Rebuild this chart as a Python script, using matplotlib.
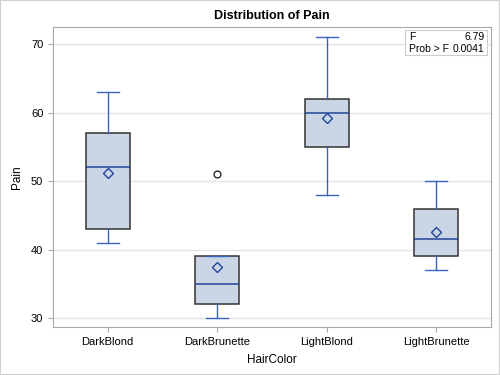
import matplotlib.pyplot as plt

plt.rcParams['font.family'] = ['Liberation Sans', 'DejaVu Sans']

# ------------------------------
# Data
# ------------------------------
hair = ["DarkBlond", "DarkBrunette", "LightBlond", "LightBrunette"]
whislo = [41, 30, 48, 37]
q1 = [43, 32, 55, 39]
med = [52, 35, 60, 41.5]
q3 = [57, 39, 62, 46]
whishi = [63, 39, 71, 50]
means = [51.2, 37.4, 59.2, 42.5]
fliers = [[], [51], [], []]

f_value = "6.79"
p_value = "0.0041"

stats = []
for i, name in enumerate(hair):
    stats.append({"label": name, "whislo": whislo[i], "q1": q1[i], "med": med[i],
                  "q3": q3[i], "whishi": whishi[i], "mean": means[i],
                  "fliers": fliers[i]})

# ------------------------------
# Plot
# ------------------------------
fig = plt.figure(figsize=(5, 3.75), dpi=100)
ax = fig.add_axes([0.106, 0.128, 0.876, 0.8])

blue = "#3a62c0"
ax.bxp(stats, positions=range(len(hair)), widths=0.4, patch_artist=True,
       showmeans=True, showfliers=True,
       boxprops=dict(facecolor="#cad5e5", edgecolor="#333333", linewidth=1.1),
       medianprops=dict(color="#23459a", linewidth=1.1),
       whiskerprops=dict(color=blue, linewidth=1),
       capprops=dict(color=blue, linewidth=1),
       meanprops=dict(marker="D", markerfacecolor="none", markeredgecolor="#23459a",
                      markersize=5.5, markeredgewidth=1),
       flierprops=dict(marker="o", markerfacecolor="none", markeredgecolor="black",
                       markersize=5, markeredgewidth=0.8))

ax.set_xlim(-0.5, 3.5)
ax.set_ylim(28.7, 72.5)
ax.set_yticks([30, 40, 50, 60, 70])
ax.set_xticks(range(len(hair)))
ax.set_xticklabels(hair)
ax.yaxis.grid(True, color="#e4e4e4", linewidth=1)
ax.set_axisbelow(True)
for s in ax.spines.values():
    s.set_color("#a8a8a8")
ax.tick_params(colors="#a8a8a8", labelcolor="black", labelsize=8, length=3.5)

ax.set_title("Distribution of Pain", fontsize=9, fontweight="bold", pad=5.5)
ax.set_xlabel("HairColor", fontsize=8.5, labelpad=5)
ax.set_ylabel("Pain", fontsize=8.5, labelpad=6)

# stats inset
ax.add_patch(plt.Rectangle((0.804, 0.907), 0.187, 0.083, transform=ax.transAxes,
                           fc="white", ec="#cccccc", lw=0.8, zorder=5))
ax.text(0.813, 0.966, "F", transform=ax.transAxes, fontsize=7.5,
        va="center", ha="left", zorder=6)
ax.text(0.813, 0.926, "Prob > F", transform=ax.transAxes, fontsize=7.5,
        va="center", ha="left", zorder=6)
ax.text(0.986, 0.966, f_value, transform=ax.transAxes, fontsize=7.5,
        va="center", ha="right", zorder=6)
ax.text(0.986, 0.926, p_value, transform=ax.transAxes, fontsize=7.5,
        va="center", ha="right", zorder=6)

fig.patches.append(plt.Rectangle((0, 0), 1, 1, transform=fig.transFigure,
                                 fill=False, ec="#d0d0d0", lw=1.5))

fig.savefig("out.png", dpi=100)
